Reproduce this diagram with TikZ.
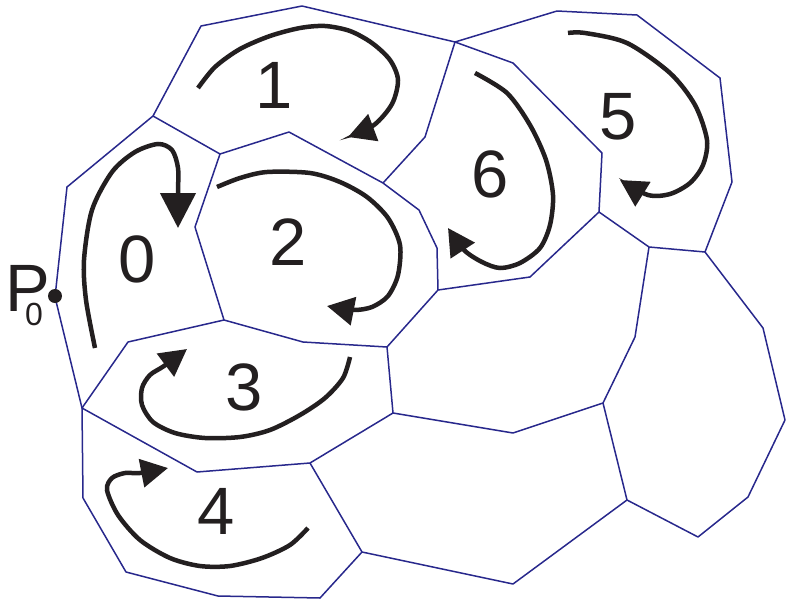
\documentclass[tikz,border=0pt]{standalone}
\usepackage{fontspec}
\setmainfont{Liberation Sans}
\usetikzlibrary{arrows.meta}
\definecolor{wire}{RGB}{40,40,140}
\definecolor{ink}{RGB}{35,31,32}
\tikzset{
  >={Triangle[length=27pt,width=28pt]},
  cell/.style={draw=wire,line width=1.5pt,line join=round},
  turn/.style={->,draw=ink,line width=4.5pt},
  num/.style={font=\fontsize{67}{67}\selectfont,text=ink,inner sep=0pt},
}
\begin{document}
\begin{tikzpicture}[x=1pt,y=-1pt]
  \useasboundingbox (0,0) rectangle (787,600);
  % outer rim of the patch
  \draw[cell] (55,297) -- (67,187) -- (153,116) -- (201,26) -- (302,6) -- (455,42)
    -- (557,11) -- (637,15) -- (720,78) -- (732,182) -- (705,252) -- (763,328)
    -- (785,420) -- (748,497) -- (698,537) -- (627,500) -- (513,584) -- (362,552)
    -- (320,598) -- (218,596) -- (126,572) -- (83,498) -- (82,408) -- cycle;
  % inner walls
  \draw[cell] (153,116) -- (220,154) -- (289,132) -- (383,183) -- (425,137) -- (455,42);
  \draw[cell] (455,42) -- (513,63) -- (602,153) -- (599,212) -- (649,247) -- (705,252);
  \draw[cell] (599,212) -- (530,277) -- (438,290) -- (437,248) -- (419,210) -- (383,183);
  \draw[cell] (220,154) -- (195,227) -- (224,320) -- (128,342) -- (82,408) -- (197,472)
    -- (310,463) -- (362,552);
  \draw[cell] (224,320) -- (303,342) -- (387,347) -- (438,290);
  \draw[cell] (387,347) -- (393,413) -- (310,463);
  \draw[cell] (393,413) -- (513,433) -- (603,403) -- (635,337) -- (649,247);
  \draw[cell] (603,403) -- (627,500);

  % turning arrows
  \draw[turn,-{Triangle[length=35pt,width=35pt]}] plot[smooth] coordinates {(95,348) (86,300)
    (84,260) (92,210) (112,172) (135,152) (158,144) (172,150) (178,168) (178,193) (178,228)};
  \draw[turn] plot[smooth] coordinates {(198,88) (215,67) (240,49) (270,36) (300,28)
    (325,26) (350,31) (372,43) (390,60) (398,80) (392,104) (374,125) (348,137)};
  \draw[turn] plot[smooth] coordinates {(217,187) (240,178) (267,172) (310,173) (340,182)
    (367,197) (388,218) (400,245) (398,275) (388,296) (372,307) (353,310) (327,306)};
  \draw[turn] plot[smooth] coordinates {(350,357) (343,378) (325,398) (300,415) (270,430)
    (240,437) (205,438) (175,433) (153,422) (142,405) (142,388) (150,375) (164,366) (187,349)};
  \draw[turn] plot[smooth] coordinates {(308,528) (290,545) (262,558) (230,566) (200,566)
    (170,558) (140,540) (118,515) (107,490) (112,478) (125,473) (140,473) (168,468)};
  \draw[turn] plot[smooth] coordinates {(568,33) (585,33) (627,43) (670,73) (695,105)
    (707,140) (703,165) (690,183) (670,194) (648,195) (620,180)};
  \draw[turn] plot[smooth] coordinates {(475,73) (507,93) (530,125) (546,160) (553,195)
    (550,225) (540,248) (520,263) (500,268) (482,262) (464,250) (448,228)};

  % cell numbers
  \node[num] (n0) at (137,259) {0};
  \node[num] (n1) at (274,85) {1};
  \node[num] (n2) at (288,242) {2};
  \node[num] (n3) at (244,387) {3};
  \node[num] (n4) at (216,511) {4};
  \node[num] (n5) at (618,117) {5};
  \node[num] (n6) at (490,174) {6};

  % start point
  \node[num] (p) at (28,288) {P};
  \node[num,font=\fontsize{32}{32}\selectfont] (p0) at (34,314) {0};
  \node[circle,fill=ink,minimum size=14pt,inner sep=0pt] (dot) at (55,296) {};
\end{tikzpicture}
\end{document}
